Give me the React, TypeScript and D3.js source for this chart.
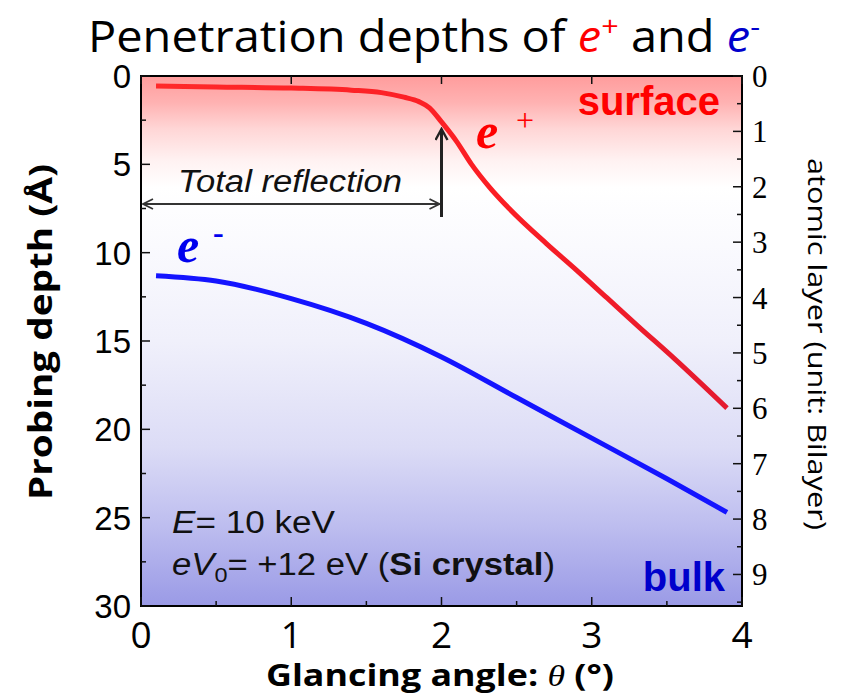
import React from "react";
import * as d3 from "d3";

const posAngle = [0.1, 0.5, 1.0, 1.4, 1.6, 1.75, 1.85, 1.92, 2.0, 2.1, 2.2, 2.32, 2.45, 2.7, 2.9, 3.1, 3.3, 3.55, 3.9];
const posDepth = [0.57, 0.62, 0.68, 0.8, 0.94, 1.2, 1.45, 1.8, 2.6, 3.7, 5.0, 6.3, 7.5, 9.5, 11.0, 12.55, 14.1, 16.0, 18.8];
const eleAngle = [0.1, 0.5, 1.0, 1.5, 2.0, 2.5, 3.0, 3.5, 3.9];
const eleDepth = [11.3, 11.6, 12.6, 14.0, 15.9, 18.2, 20.5, 22.8, 24.7];
const xTicks = [0, 1, 2, 3, 4];
const yTicks = [0, 5, 10, 15, 20, 25, 30];
const layerTicks = [0, 1, 2, 3, 4, 5, 6, 7, 8, 9];
const bilayer = 3.135;

const W = 845, H = 697;
const L = 141, R = 742, T = 76, B = 606;

export default function App() {
  const x = d3.scaleLinear().domain([0, 4]).range([L, R]);
  const y = d3.scaleLinear().domain([0, 30]).range([T, B]);
  const yr = d3.scaleLinear().domain([0, 30 / bilayer]).range([T, B]);
  const line = d3.line<[number, number]>().x(d => x(d[0])).y(d => y(d[1])).curve(d3.curveMonotoneX);
  const posPath = line(posAngle.map((a, i) => [a, posDepth[i]]) as [number, number][]) || "";
  const elePath = line(eleAngle.map((a, i) => [a, eleDepth[i]]) as [number, number][]) || "";

  const xMinor = d3.range(0.5, 4, 1);
  const yMinor = d3.range(2.5, 30, 5);
  const layerMinor = d3.range(0.5, 30 / bilayer, 1);
  const tickColor = "#111";
  const calibri = "'Open Sans', 'Noto Sans', sans-serif";
  const arial = "'Liberation Sans', Arial, sans-serif";
  const times = "'Liberation Serif', 'Times New Roman', serif";

  return (
    <svg width={W} height={H} style={{ position: "absolute", left: 0, top: 0 }} xmlns="http://www.w3.org/2000/svg">
      <defs>
        <linearGradient id="bg" x1="0" y1="0" x2="0" y2="1">
          <stop offset="0%" stopColor="#ff9c9c" />
          <stop offset="5%" stopColor="#ffb2b2" />
          <stop offset="10%" stopColor="#ffd6d6" />
          <stop offset="16%" stopColor="#fff2f2" />
          <stop offset="21%" stopColor="#ffffff" />
          <stop offset="32%" stopColor="#fafafe" />
          <stop offset="50%" stopColor="#f0f0fb" />
          <stop offset="70%" stopColor="#dcdcf6" />
          <stop offset="85%" stopColor="#bdbdef" />
          <stop offset="100%" stopColor="#9a9ae6" />
        </linearGradient>
        <linearGradient id="redline" gradientUnits="userSpaceOnUse" x1={x(0)} y1="0" x2={x(4)} y2="0">
          <stop offset="0%" stopColor="#ff2a2a" />
          <stop offset="60%" stopColor="#fb1d24" />
          <stop offset="100%" stopColor="#e21a30" />
        </linearGradient>
        <marker id="openHead" viewBox="0 0 12 12" refX="11" refY="6" markerWidth="12" markerHeight="12" markerUnits="userSpaceOnUse" orient="auto-start-reverse">
          <path d="M1,1 L11,6 L1,11" fill="none" stroke="#333" strokeWidth="1.8" />
        </marker>
        <marker id="upHead" viewBox="0 0 14 14" refX="12" refY="7" markerWidth="14" markerHeight="14" markerUnits="userSpaceOnUse" orient="auto">
          <path d="M1,1 L12,7 L1,13" fill="none" stroke="#222" strokeWidth="2.4" />
        </marker>
      </defs>

      <text x={424} y={52} textAnchor="middle" fontFamily={calibri} fontSize={43} fill="#000" textLength={672} lengthAdjust="spacingAndGlyphs">
        Penetration depths of <tspan fill="#ff0000" fontStyle="italic">e</tspan><tspan fill="#ff0000" dy={-16} fontSize={28}>+</tspan><tspan dy={16}> and </tspan><tspan fill="#0000cc" fontStyle="italic">e</tspan><tspan fill="#0000cc" dy={-16} fontSize={28}>-</tspan>
      </text>

      <rect x={L} y={T} width={R - L} height={B - T} fill="url(#bg)" />

      {/* curves */}
      <path d={elePath} fill="none" stroke="#1414ff" strokeWidth={5} />
      <path d={posPath} fill="none" stroke="url(#redline)" strokeWidth={5} />

      {/* total reflection arrows */}
      <line x1={x(0) + 2} y1={204} x2={x(2) - 2} y2={204} stroke="#333" strokeWidth={2} markerStart="url(#openHead)" markerEnd="url(#openHead)" />
      <line x1={x(2)} y1={217} x2={x(2)} y2={129} stroke="#222" strokeWidth={3} markerEnd="url(#upHead)" />
      <text x={178} y={192} fontFamily={arial} fontStyle="italic" fontSize={31} fill="#111" textLength={224} lengthAdjust="spacingAndGlyphs">Total reflection</text>

      {/* labels */}
      <text x={720} y={115} textAnchor="end" fontFamily={arial} fontWeight="bold" fontSize={40} fill="#ff0000">surface</text>
      <text x={725} y={591} textAnchor="end" fontFamily={arial} fontWeight="bold" fontSize={40} fill="#0000cc">bulk</text>
      <text x={476} y={148} fontFamily={times} fontStyle="italic" fontWeight="bold" fontSize={50} fill="#ff0000">e</text>
      <text x={516} y={131} fontFamily={times} fontSize={32} fill="#ff0000">+</text>
      <text x={177} y={262} fontFamily={times} fontStyle="italic" fontWeight="bold" fontSize={50} fill="#0000ee">e</text>
      <text x={213} y={243} fontFamily={times} fontWeight="bold" fontSize={32} fill="#0000ee">-</text>

      <text x={172} y={533} fontFamily={arial} fontSize={31} fill="#111" textLength={163} lengthAdjust="spacingAndGlyphs"><tspan fontStyle="italic">E</tspan>= 10 keV</text>
      <text x={172} y={575} fontFamily={arial} fontSize={31} fill="#111" textLength={383} lengthAdjust="spacingAndGlyphs"><tspan fontStyle="italic">eV</tspan><tspan fontSize={21} dy={7}>0</tspan><tspan dy={-7}>= +12 eV (</tspan><tspan fontWeight="bold">Si crystal</tspan>)</text>

      {/* frame */}
      <rect x={L} y={T} width={R - L} height={B - T} fill="none" stroke="#000" strokeWidth={2} />

      {/* bottom ticks */}
      {xTicks.map(t => (
        <g key={"xb" + t}>
          <line x1={x(t)} x2={x(t)} y1={B} y2={B - 9} stroke={tickColor} strokeWidth={1.5} />
          <line x1={x(t)} x2={x(t)} y1={T} y2={T + 8} stroke={tickColor} strokeWidth={1.5} />
          <text x={x(t)} y={648} textAnchor="middle" fontFamily={calibri} fontSize={37} fill="#000">{t}</text>
        </g>
      ))}
      {xMinor.map(t => (
        <line key={"xm" + t} x1={x(t)} x2={x(t)} y1={B} y2={B - 5} stroke={tickColor} strokeWidth={1.5} />
      ))}

      {/* left ticks */}
      {yTicks.map(t => (
        <g key={"yl" + t}>
          <line x1={L} x2={L + 9} y1={y(t)} y2={y(t)} stroke={tickColor} strokeWidth={1.5} />
          <text x={131} y={y(t) + 12} textAnchor="end" fontFamily={arial} fontSize={33} fill="#000">{t}</text>
        </g>
      ))}
      {yMinor.map(t => (
        <line key={"ym" + t} x1={L} x2={L + 5} y1={y(t)} y2={y(t)} stroke={tickColor} strokeWidth={1.5} />
      ))}

      {/* right ticks */}
      {layerTicks.map(t => (
        <g key={"yr" + t}>
          <line x1={R} x2={R - 9} y1={yr(t)} y2={yr(t)} stroke={tickColor} strokeWidth={1.5} />
          <text x={752} y={yr(t) + 11} fontFamily={times} fontSize={31} fill="#000">{t}</text>
        </g>
      ))}
      {layerMinor.map(t => (
        <line key={"yrm" + t} x1={R} x2={R - 5} y1={yr(t)} y2={yr(t)} stroke={tickColor} strokeWidth={1.5} />
      ))}

      {/* axis titles */}
      <text x={440} y={686} textAnchor="middle" fontFamily={calibri} fontWeight="bold" fontSize={30} fill="#000" textLength={348} lengthAdjust="spacingAndGlyphs">
        Glancing angle: <tspan fontFamily={times} fontStyle="italic" fontWeight="normal">θ</tspan> (°)
      </text>
      <text transform="translate(52,332) rotate(-90)" textAnchor="middle" fontFamily={calibri} fontWeight="bold" fontSize={32} fill="#000" textLength={336} lengthAdjust="spacingAndGlyphs">
        Probing depth (Å)
      </text>
      <text transform="translate(808,344) rotate(90)" textAnchor="middle" fontFamily={calibri} fontSize={26} fill="#000" textLength={372} lengthAdjust="spacingAndGlyphs">
        atomic layer (unit: Bilayer)
      </text>
    </svg>
  );
}
